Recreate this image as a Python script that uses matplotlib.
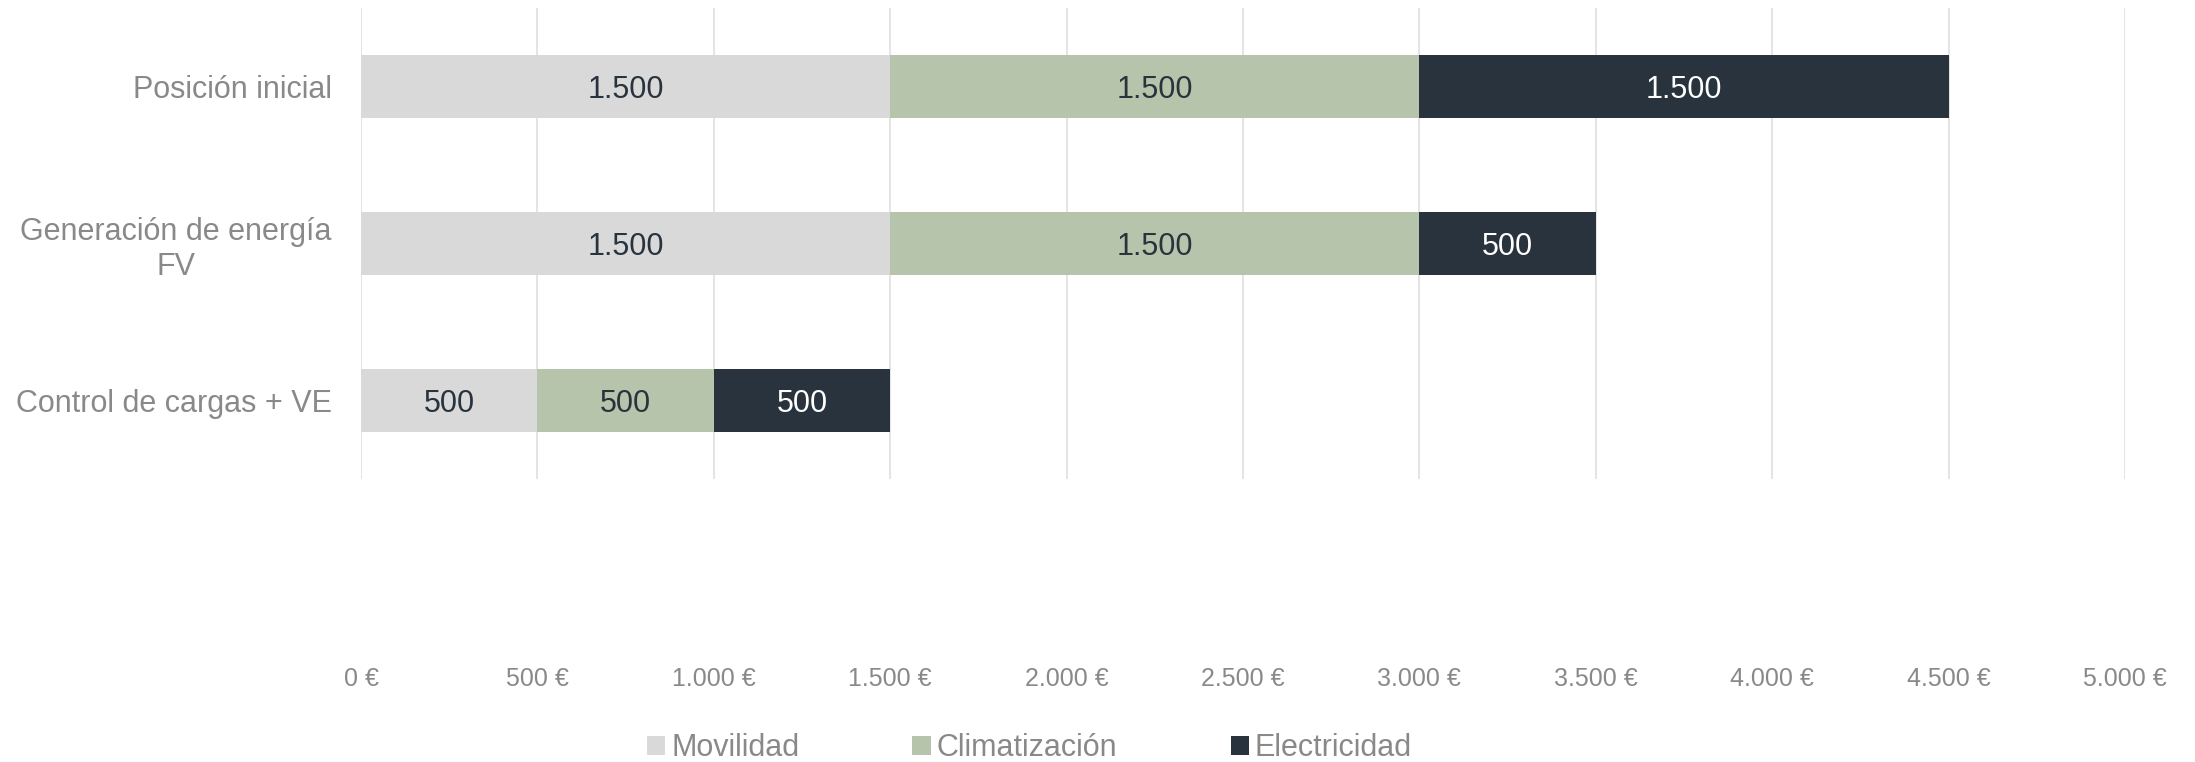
import matplotlib.pyplot as plt
import numpy as np

# datos del gráfico
categorias = ['Posición inicial', 'Generación de energía\nFV', 'Control de cargas + VE']
movilidad = [1500, 1500, 500]
climatizacion = [1500, 1500, 500]
electricidad = [1500, 500, 500]
series = ['Movilidad', 'Climatización', 'Electricidad']
ticks_x = [0, 500, 1000, 1500, 2000, 2500, 3000, 3500, 4000, 4500, 5000]

colores = ['#d9d9d9', '#b5c4aa', '#28333d']
color_texto = ['#28333d', '#28333d', '#ffffff']
gris = '#898989'

plt.rcParams['font.family'] = ['Liberation Sans Narrow', 'Liberation Sans', 'DejaVu Sans']


def miles(v):
    return f'{int(v):,}'.replace(',', '.')


fig = plt.figure(figsize=(21.95, 7.62), dpi=100)
ax = fig.add_axes([0.1645, 0.371, 0.8036, 0.618])

y = np.arange(len(categorias))
izq = np.zeros(len(categorias))
for nombre, vals, col, ct in zip(series, [movilidad, climatizacion, electricidad], colores, color_texto):
    rects = ax.barh(y, vals, left=izq, height=0.4, color=col, label=nombre, zorder=2)
    for r, v in zip(rects, vals):
        ax.text(r.get_x() + r.get_width() / 2, r.get_y() + r.get_height() / 2, miles(v),
                ha='center', va='center_baseline', color=ct, fontsize=22)
    izq += np.array(vals)

ax.set_xlim(0, 5000)
ax.set_ylim(2.5, -0.5)
ax.set_xticks(ticks_x)
ax.set_xticklabels([miles(t) + ' €' for t in ticks_x])
ax.set_yticks(y)
ax.set_yticklabels(categorias, multialignment='center')

ax.grid(axis='x', color='#e2e2e2', linewidth=1.3, zorder=0)
ax.set_axisbelow(True)
for s in ax.spines.values():
    s.set_visible(False)
ax.tick_params(axis='x', length=0, pad=135, labelsize=18, labelcolor=gris)
ax.tick_params(axis='y', length=0, pad=21, labelsize=22, labelcolor=gris)

fig.legend(loc='center', bbox_to_anchor=(0.469, 0.018), ncol=3, frameon=False,
           fontsize=22, labelcolor=gris, handlelength=0.6, handleheight=0.6,
           handletextpad=0.2, columnspacing=3.7)

fig.savefig('out.png', dpi=100)
